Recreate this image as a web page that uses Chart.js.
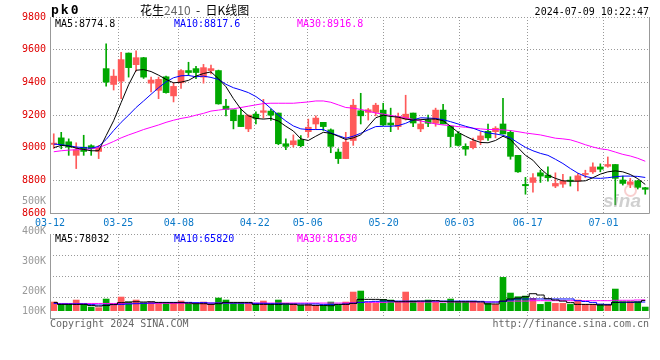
<!DOCTYPE html>
<html>
<head>
<meta charset="utf-8">
<script src="https://cdn.jsdelivr.net/npm/chart.js@4.4.1/dist/chart.umd.min.js"></script>
<style>
  body { margin: 0; background: #fff; }
  #box { position: relative; width: 660px; height: 360px; overflow: hidden; font-family: "DejaVu Sans Mono", monospace; font-size: 10px; }
  canvas { position: absolute; left: 0; }
  .txt { position: absolute; white-space: pre; line-height: 10px; }
</style>
</head>
<body>
<div id="box">
  <canvas id="kline" width="660" height="232" style="top:0"></canvas>
  <canvas id="vol" width="660" height="150" style="top:190px"></canvas>
  <div class="txt" style="left:51px;top:5px;font-weight:bold;font-size:13px;letter-spacing:2px">pk0</div>
  <div class="txt" style="left:140px;top:4px;font-family:'Noto Sans CJK SC';font-size:12px;line-height:12px">花生<span style="color:#666">2410</span>  -  日K线图</div>
  <div class="txt" style="right:11px;top:7px;color:#000">2024-07-09 10:22:47</div>
  <div class="txt" id="lg5" style="left:55px;top:19px;color:#000"></div>
  <div class="txt" id="lg10" style="left:174px;top:19px;color:#0000ff"></div>
  <div class="txt" id="lg30" style="left:297px;top:19px;color:#ff00ff"></div>
  <div class="txt" id="vlg5" style="left:55px;top:234px;color:#000"></div>
  <div class="txt" id="vlg10" style="left:174px;top:234px;color:#0000ff"></div>
  <div class="txt" id="vlg30" style="left:297px;top:234px;color:#ff00ff"></div>
  <div style="position:absolute;left:624px;top:184px;width:9px;height:9px;border:2px solid rgba(235,120,120,0.35);border-radius:50%"></div>
  <div class="txt" style="left:603px;top:191px;font-family:'Liberation Sans';font-style:italic;font-weight:bold;font-size:19px;line-height:19px;color:rgba(150,150,150,0.45)">sina</div>
  <div class="txt" style="left:50px;top:319px;color:#666">Copyright 2024 SINA.COM</div>
  <div class="txt" style="right:11px;top:319px;color:#666">http://finance.sina.com.cn</div>
</div>
<script>
const dates = [
  "03-12","03-13","03-14","03-15","03-18","03-19","03-20","03-21","03-22",
  "03-25","03-26","03-27","03-28","03-29","04-01","04-02","04-03",
  "04-08","04-09","04-10","04-11","04-12","04-15","04-16","04-17","04-18","04-19",
  "04-22","04-23","04-24","04-25","04-26","04-29","04-30",
  "05-06","05-07","05-08","05-09","05-10","05-13","05-14","05-15","05-16","05-17",
  "05-20","05-21","05-22","05-23","05-24","05-27","05-28","05-29","05-30","05-31",
  "06-03","06-04","06-05","06-06","06-07","06-11","06-12","06-13","06-14",
  "06-17","06-18","06-19","06-20","06-21","06-24","06-25","06-26","06-27","06-28",
  "07-01","07-02","07-03","07-04","07-05","07-08","07-09"
];
const open = [
  9020, 9060, 9036, 8953, 9003, 9012, 8977, 9484, 9387, 9407,
  9579, 9508, 9551, 9395, 9351, 9434, 9317, 9397, 9472, 9484,
  9432, 9472, 9472, 9254, 9232, 9199, 9115, 9205, 9216, 9224,
  9212, 9024, 9018, 9048, 9098, 9145, 9155, 9109, 8973, 8933,
  9044, 9226, 9216, 9216, 9230, 9151, 9129, 9175, 9212, 9115,
  9171, 9149, 9230, 9131, 9084, 9008, 9000, 9048, 9100, 9098,
  9145, 9094, 8953, 8775, 8787, 8846, 8832, 8765, 8777, 8801,
  8795, 8836, 8852, 8882, 8886, 8897, 8802, 8775, 8797, 8755
];
const high = [
  9085, 9094, 9054, 9030, 9076, 9018, 9014, 9636, 9478, 9583,
  9580, 9593, 9553, 9432, 9432, 9438, 9397, 9478, 9523, 9498,
  9510, 9506, 9475, 9296, 9232, 9236, 9200, 9220, 9296, 9236,
  9212, 9054, 9078, 9074, 9175, 9195, 9155, 9115, 8993, 9094,
  9296, 9333, 9240, 9272, 9272, 9242, 9212, 9321, 9212, 9175,
  9199, 9242, 9266, 9131, 9098, 9024, 9058, 9098, 9145, 9129,
  9302, 9105, 8953, 8818, 8842, 8862, 8882, 8846, 8836, 8822,
  8842, 8862, 8907, 8901, 8943, 8897, 8826, 8812, 8801, 8757
];
const low = [
  8995, 8993, 8953, 8872, 8953, 8953, 8933, 9377, 9353, 9300,
  9432, 9468, 9424, 9341, 9300, 9333, 9280, 9363, 9442, 9422,
  9395, 9452, 9266, 9195, 9115, 9129, 9098, 9145, 9181, 9167,
  9018, 8987, 9004, 9004, 9064, 9115, 9105, 8969, 8903, 8933,
  9014, 9145, 9169, 9195, 9135, 9098, 9111, 9169, 9129, 9098,
  9129, 9131, 9145, 9004, 9010, 8953, 8993, 9018, 9044, 9060,
  9084, 8929, 8848, 8715, 8727, 8787, 8795, 8755, 8757, 8765,
  8735, 8816, 8842, 8852, 8880, 8650, 8771, 8755, 8747, 8715
];
const close = [
  9028, 9018, 9003, 8987, 8977, 8993, 8998, 9401, 9438, 9539,
  9490, 9551, 9432, 9414, 9418, 9337, 9375, 9472, 9460, 9460,
  9490, 9484, 9268, 9234, 9165, 9129, 9199, 9179, 9226, 9199,
  9024, 9008, 9042, 9012, 9125, 9181, 9129, 9008, 8933, 9034,
  9260, 9195, 9232, 9260, 9139, 9139, 9191, 9205, 9151, 9145,
  9149, 9230, 9145, 9068, 9014, 8991, 9038, 9072, 9060, 9119,
  9084, 8947, 8852, 8767, 8816, 8826, 8816, 8781, 8795, 8795,
  8828, 8842, 8882, 8868, 8897, 8812, 8781, 8791, 8757, 8745
];
const ma5 = [
  9000, 9014, 9010, 8997, 8989, 8981, 8981, 9074, 9165, 9276,
  9385, 9474, 9478, 9466, 9444, 9418, 9397, 9401, 9412, 9438,
  9454, 9464, 9422, 9373, 9300, 9236, 9195, 9179, 9175, 9179,
  9163, 9131, 9102, 9054, 9044, 9070, 9094, 9088, 9070, 9050,
  9060, 9078, 9131, 9183, 9199, 9191, 9187, 9175, 9169, 9171,
  9175, 9175, 9165, 9131, 9094, 9070, 9048, 9032, 9030, 9044,
  9070, 9050, 9000, 8953, 8923, 8872, 8832, 8812, 8797, 8795,
  8795, 8797, 8816, 8838, 8852, 8858, 8852, 8836, 8810, 8774.8
];
const ma10 = [
  9022, 9018, 9012, 9004, 9000, 8997, 9008, 9050, 9105, 9155,
  9199, 9246, 9286, 9327, 9367, 9403, 9428, 9440, 9442, 9434,
  9438, 9430, 9418, 9388, 9367, 9353, 9337, 9313, 9280, 9240,
  9199, 9163, 9133, 9115, 9111, 9111, 9111, 9090, 9074, 9058,
  9070, 9088, 9109, 9129, 9131, 9131, 9135, 9149, 9170, 9183,
  9181, 9179, 9171, 9159, 9145, 9131, 9119, 9102, 9090, 9084,
  9076, 9060, 9030, 9002, 8981, 8965, 8953, 8929, 8903, 8872,
  8844, 8824, 8814, 8812, 8816, 8822, 8826, 8826, 8824, 8817.6
];
const ma30 = [
  8975, 8981, 8985, 8987, 8989, 8993, 9001, 9018, 9038, 9060,
  9078, 9094, 9111, 9125, 9139, 9155, 9168, 9179, 9187, 9199,
  9210, 9224, 9230, 9236, 9238, 9246, 9254, 9262, 9270, 9272,
  9272, 9272, 9272, 9276, 9280, 9286, 9286, 9278, 9262, 9246,
  9242, 9234, 9224, 9212, 9206, 9197, 9191, 9183, 9173, 9163,
  9155, 9145, 9139, 9135, 9129, 9125, 9119, 9115, 9111, 9111,
  9109, 9105, 9098, 9090, 9084, 9078, 9068, 9058, 9054, 9048,
  9034, 9018, 9004, 8993, 8987, 8973, 8959, 8949, 8935, 8916.8
];
const volume = [
  65800, 48100, 48100, 81000, 48100, 27800, 22800, 88600, 48100, 103700,
  65800, 81000, 60700, 65800, 60700, 53100, 60700, 73400, 53100, 48100,
  65800, 48100, 96100, 81000, 60700, 60700, 60700, 48100, 73400, 48100,
  81000, 48100, 55700, 40500, 48100, 40500, 40500, 65800, 40500, 65800,
  141700, 149300, 55700, 55700, 86000, 81000, 65800, 141700, 73400, 65800,
  81000, 65800, 55700, 88600, 65800, 65800, 65800, 55700, 55700, 48100,
  253000, 134100, 106300, 111300, 93600, 48100, 65800, 55700, 55700, 48100,
  81000, 48100, 48100, 48100, 48100, 164400, 65800, 65800, 65800, 27800
];
const volMa5 = [
  63000, 48000, 48000, 48000, 48000, 40000, 35000, 40000, 48000, 61000,
  66000, 68000, 66000, 68000, 63000, 61000, 61000, 61000, 58000, 53000,
  53000, 48000, 53000, 63000, 63000, 63000, 63000, 48000, 48000, 48000,
  48000, 51000, 48000, 43000, 43000, 40000, 40000, 38000, 48000, 48000,
  56000, 86000, 86000, 86000, 83000, 76000, 68000, 68000, 71000, 73000,
  73000, 76000, 71000, 68000, 68000, 68000, 68000, 66000, 51000, 51000,
  73000, 89000, 96000, 106000, 129000, 119000, 91000, 81000, 73000, 61000,
  48000, 48000, 48000, 43000, 43000, 63000, 66000, 66000, 66000, 78032
];
const volMa10 = [
  56000, 51000, 51000, 51000, 51000, 46000, 43000, 43000, 46000, 48000,
  51000, 53000, 56000, 58000, 61000, 63000, 63000, 63000, 63000, 61000,
  61000, 58000, 58000, 58000, 58000, 58000, 58000, 56000, 56000, 53000,
  53000, 51000, 51000, 51000, 51000, 51000, 48000, 48000, 48000, 51000,
  56000, 63000, 68000, 71000, 73000, 73000, 73000, 73000, 73000, 73000,
  73000, 73000, 73000, 73000, 73000, 73000, 73000, 71000, 66000, 66000,
  71000, 81000, 89000, 89000, 89000, 89000, 89000, 89000, 89000, 89000,
  76000, 70000, 63000, 50000, 48000, 63000, 63000, 63000, 66000, 65820
];
const volMa30 = [
  55000, 55000, 55000, 55000, 55000, 55000, 55000, 55000, 55000, 55000,
  56000, 56000, 56000, 56000, 56000, 56000, 56000, 56000, 56000, 56000,
  58000, 58000, 58000, 58000, 58000, 58000, 58000, 58000, 58000, 58000,
  58000, 58000, 58000, 58000, 58000, 58000, 58000, 58000, 58000, 58000,
  61000, 63000, 63000, 63000, 63000, 66000, 66000, 66000, 66000, 66000,
  66000, 66000, 66000, 66000, 66000, 66000, 66000, 66000, 66000, 66000,
  71000, 73000, 73000, 73000, 76000, 76000, 76000, 76000, 76000, 76000,
  76000, 76000, 76000, 76000, 76000, 79000, 79000, 79000, 81000, 81630
];
const priceTicks = [8600, 8800, 9000, 9200, 9400, 9600, 9800];
const tickDates = ["03-12", "03-25", "04-08", "04-22", "05-06", "05-20", "06-03", "06-17", "07-01"];
const volLabelValues = [100000, 200000, 300000, 400000, 500000];

const RED = "#ff5a5a";
const GREEN = "#00a800";
const GRID = "#999";

Chart.defaults.font.family = '"DejaVu Sans Mono", monospace';
Chart.defaults.font.size = 10;
Chart.defaults.animation = false;

const idx = dates.map((d, i) => i);
const upDown = close.map((c, i) => (c >= open[i] ? RED : GREEN));

// legend texts come from last MA values
document.getElementById("lg5").textContent = "MA5:" + ma5[ma5.length - 1];
document.getElementById("lg10").textContent = "MA10:" + ma10[ma10.length - 1];
document.getElementById("lg30").textContent = "MA30:" + ma30[ma30.length - 1];
document.getElementById("vlg5").textContent = "MA5:" + volMa5[volMa5.length - 1];
document.getElementById("vlg10").textContent = "MA10:" + volMa10[volMa10.length - 1];
document.getElementById("vlg30").textContent = "MA30:" + volMa30[volMa30.length - 1];

// solid grey left/right/bottom border
const frame = {
  id: "frame",
  afterDatasetsDraw(chart) {
    const { ctx, chartArea: a } = chart;
    ctx.save();
    ctx.strokeStyle = GRID;
    ctx.lineWidth = 1;
    ctx.beginPath();
    ctx.moveTo(Math.round(a.left) + 0.5, a.top);
    ctx.lineTo(Math.round(a.left) + 0.5, Math.round(a.bottom) + 0.5);
    ctx.lineTo(Math.round(a.right) + 0.5, Math.round(a.bottom) + 0.5);
    ctx.lineTo(Math.round(a.right) + 0.5, a.top);
    ctx.stroke();
    ctx.restore();
  }
};

// sina puts volume labels on its own (odd) scale
const volLabels = {
  id: "volLabels",
  afterDraw(chart) {
    const { ctx, chartArea: a } = chart;
    const s = chart.scales.yl;
    ctx.save();
    ctx.font = '10px "DejaVu Sans Mono", monospace';
    ctx.fillStyle = "#999";
    ctx.textAlign = "right";
    ctx.textBaseline = "middle";
    volLabelValues.forEach(v => {
      const y = Math.min(s.getPixelForValue(v), a.bottom - 7);
      ctx.fillText(v / 1000 + "K", a.left - 4, y);
    });
    ctx.restore();
  }
};

function dateAxis(showLabels, h) {
  const n = dates.length;
  return {
    type: "linear",
    min: -0.5,
    max: n - 0.5,
    offset: false,
    afterBuildTicks: s => {
      s.ticks = tickDates.map(d => ({ value: dates.indexOf(d) * n / (n - 1) - 0.5 }));
    },
    afterFit: s => { s.height = h; },
    grid: { color: GRID, drawTicks: false, offset: false },
    border: { display: false, dash: [1, 2] },
    ticks: {
      display: showLabels, color: "#0a78c8", padding: 4,
      autoSkip: false, maxRotation: 0,
      callback: (v, i) => tickDates[i]
    }
  };
}

function maLine(data, color, stepped) {
  return {
    type: "line", data, borderColor: color, borderWidth: 1,
    pointRadius: 0, tension: 0, stepped: stepped || false, order: 0
  };
}

new Chart(document.getElementById("kline"), {
  type: "bar",
  data: {
    labels: idx,
    datasets: [
      maLine(ma5, "#000000"),
      maLine(ma10, "#0000ff"),
      maLine(ma30, "#ff00ff"),
      {
        data: open.map((o, i) => [o, close[i]]),
        backgroundColor: upDown, barThickness: 6, minBarLength: 1,
        grouped: false, order: 1
      },
      {
        data: low.map((l, i) => [l, high[i]]),
        backgroundColor: upDown, barThickness: 1,
        grouped: false, order: 2
      }
    ]
  },
  options: {
    responsive: false,
    layout: { padding: { top: 17, right: 11, left: 0, bottom: 0 } },
    plugins: { legend: { display: false }, tooltip: { enabled: false } },
    scales: {
      x: dateAxis(true, 19),
      y: {
        min: 8600, max: 9800,
        afterBuildTicks: s => { s.ticks = priceTicks.map(v => ({ value: v })); },
        afterFit: s => { s.width = 50; },
        grid: { color: GRID, drawTicks: false },
        border: { display: false, dash: [1, 2] },
        ticks: { color: "#e00000", padding: 4, callback: v => String(v) }
      }
    }
  },
  plugins: [frame]
});

new Chart(document.getElementById("vol"), {
  type: "bar",
  data: {
    labels: idx,
    datasets: [
      maLine(volMa5, "#000000", "middle"),
      maLine(volMa10, "#0000ff", "middle"),
      maLine(volMa30, "#ff00ff", "middle"),
      {
        data: volume, backgroundColor: upDown, barThickness: 6,
        grouped: false, order: 1
      }
    ]
  },
  options: {
    responsive: false,
    layout: { padding: { top: 44, right: 11, left: 0, bottom: 0 } },
    plugins: { legend: { display: false }, tooltip: { enabled: false } },
    scales: {
      x: dateAxis(false, 22),
      y: {
        min: -55400, max: 582150,
        afterBuildTicks: s => {
          const step = (s.max - s.min) / 4;
          s.ticks = [0, 1, 2, 3, 4].map(k => ({ value: s.min + k * step }));
        },
        afterFit: s => { s.width = 50; },
        grid: { color: GRID, drawTicks: false },
        border: { display: false, dash: [1, 2] },
        ticks: { display: false }
      },
      yl: { type: "linear", display: false, min: 110000, max: 390000 }
    }
  },
  plugins: [frame, volLabels]
});
</script>
</body>
</html>
